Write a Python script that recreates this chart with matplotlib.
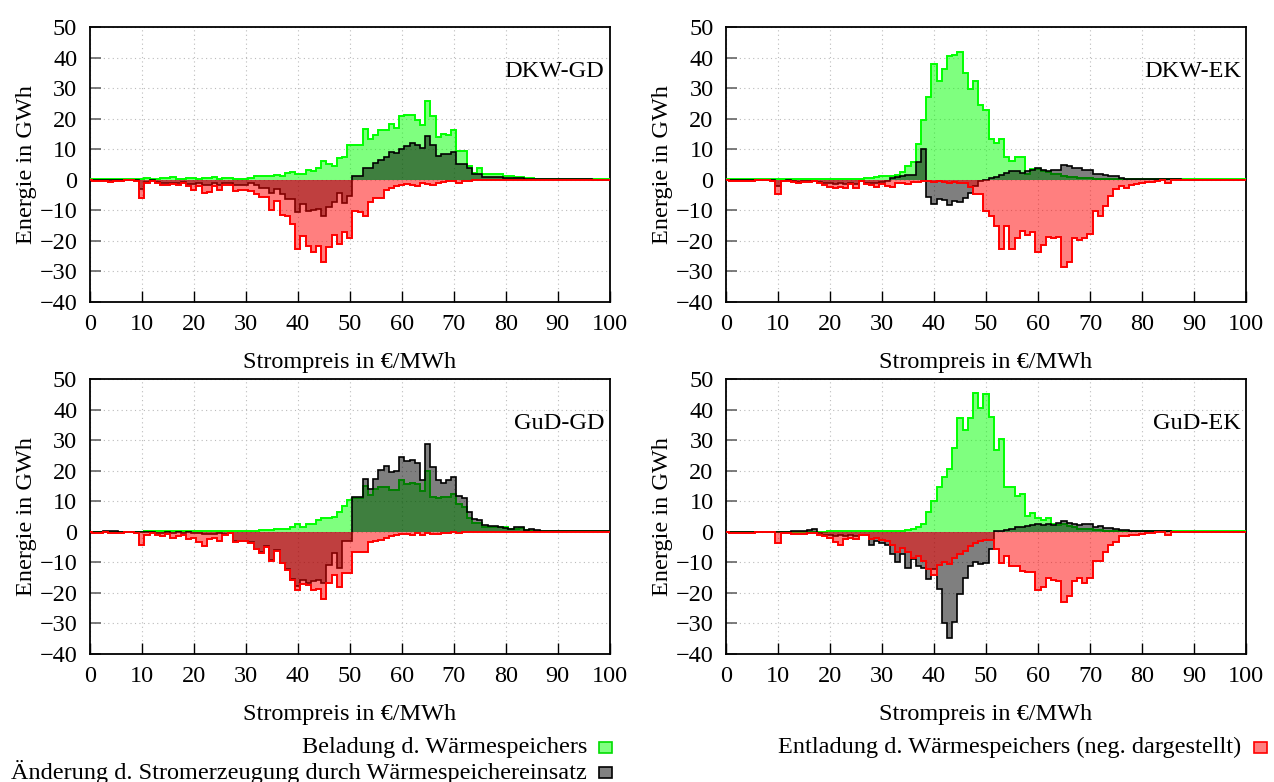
import numpy as np
import matplotlib
matplotlib.use("Agg")
import matplotlib.pyplot as plt
from matplotlib.patches import Rectangle

plt.rcParams['font.family'] = ['Liberation Serif', 'DejaVu Serif']

# Strompreis-Klassen (€/MWh), 1 €/MWh breit, zentriert
prices = np.arange(0, 101)

# ---------- DKW-GD ----------
dkw_gd_beladung = [
    0.1, 0.1, 0.1, 0.1, 0.1, 0.1, 0.1, 0.1, 0.1, 0.1,
    0.1, 0.5, 0.3, 0.3, 0.5, 0.5, 0.9, 0.4, 0.4, 0.5,
    0.6, 0.4, 0.6, 0.6, 0.8, 0.4, 0.6, 0.6, 0.4, 0.4,
    0.4, 0.5, 1.4, 1.4, 1.2, 1.2, 1.5, 1.3, 2.3, 2.5,
    1.9, 1.9, 3.1, 2.8, 3.9, 6.0, 5.2, 4.4, 7.1, 7.6,
    11.3, 11.3, 11.3, 16.7, 13.5, 14.6, 16.2, 16.2, 18.2, 16.8,
    20.9, 21.3, 21.1, 19.5, 17.8, 25.9, 20.8, 14.1, 15.0, 14.8,
    16.2, 9.5, 9.5, 4.4, 2.3, 3.9, 2.0, 1.9, 1.9, 1.9,
    1.2, 1.2, 1.0, 1.0, 0.7, 0.7, 0.4, 0.4, 0.4, 0.4,
    0.4, 0.2, 0.2, 0.2, 0.2, 0.2, 0.2, 0.2, 0.1, 0.1, 0.1]
dkw_gd_aenderung = [
    0.0, 0.0, -0.1, -0.1, -0.2, -0.1, 0.0, 0.0, 0.0, -0.1,
    -3.0, -0.7, -0.2, -0.8, -1.2, -1.2, -0.9, -1.2, -0.8, -1.4,
    -1.4, -1.2, -1.6, -1.6, -1.2, -1.6, -1.0, -1.2, -1.6, -1.6,
    -1.6, -1.0, -1.7, -2.6, -2.6, -4.2, -2.9, -4.7, -6.3, -6.3,
    -10.4, -8.0, -10.1, -9.8, -9.5, -11.7, -9.0, -7.4, -4.2, -7.5,
    -5.3, 1.2, 1.2, 3.9, 3.9, 5.5, 6.6, 7.4, 9.2, 8.7,
    10.0, 11.1, 11.9, 11.4, 10.5, 14.3, 11.4, 7.8, 8.4, 8.4,
    9.1, 5.3, 5.2, 3.7, 2.0, 2.0, 1.0, 0.9, 0.9, 0.9,
    0.6, 0.6, 0.5, 0.5, 0.3, 0.3, 0.2, 0.2, 0.2, 0.2,
    0.2, 0.1, 0.1, 0.1, 0.1, 0.1, 0.1, 0.0, 0.0, 0.0, 0.0]
dkw_gd_entladung = [
    -0.2, -0.3, -0.5, -0.4, -0.6, -0.5, -0.3, -0.2, -0.2, -0.3,
    -5.8, -1.0, -0.3, -1.0, -1.7, -1.7, -1.3, -1.7, -1.0, -2.0,
    -3.4, -2.0, -4.2, -3.9, -2.0, -3.2, -1.7, -1.7, -3.6, -3.4,
    -3.4, -3.6, -4.7, -5.5, -5.5, -9.9, -6.9, -11.4, -12.0, -14.6,
    -22.8, -18.5, -21.7, -23.5, -21.7, -26.8, -22.0, -18.0, -21.0, -17.0,
    -19.0, -10.3, -10.5, -12.0, -7.2, -6.0, -5.8, -3.3, -2.6, -2.0,
    -1.7, -1.3, -1.7, -2.0, -1.2, -1.3, -1.6, -1.0, -0.7, -0.5,
    -0.5, -1.0, -0.5, -0.3, -0.2, -0.2, -0.2, -0.2, -0.2, -0.2,
    -0.2, -0.2, -0.2, -0.2, -0.2, -0.2, -0.1, -0.1, -0.1, -0.1,
    -0.1, -0.1, -0.1, -0.1, -0.1, -0.1, -0.1, -0.1, -0.1, -0.1, -0.1]

# ---------- DKW-EK ----------
dkw_ek_beladung = [
    0.1, 0.1, 0.1, 0.1, 0.1, 0.1, 0.1, 0.1, 0.1, 0.1,
    0.3, 0.3, 0.2, 0.1, 0.1, 0.1, 0.2, 0.2, 0.2, 0.2,
    0.2, 0.2, 0.2, 0.3, 0.3, 0.4, 0.3, 0.5, 0.7, 0.9,
    1.2, 1.2, 1.2, 1.7, 2.5, 4.4, 5.7, 11.6, 19.7, 27.0,
    38.0, 32.2, 36.1, 40.4, 41.0, 41.7, 34.8, 29.7, 32.2, 24.5,
    22.9, 13.5, 12.2, 13.5, 7.4, 6.3, 7.4, 7.4, 2.0, 3.5,
    3.5, 3.0, 2.5, 2.0, 1.8, 1.2, 1.0, 0.8, 0.6, 0.6,
    0.6, 0.4, 0.4, 0.4, 0.4, 0.4, 0.3, 0.3, 0.3, 0.3,
    0.3, 0.2, 0.2, 0.2, 0.2, 0.2, 0.1, 0.1, 0.1, 0.1,
    0.1, 0.1, 0.1, 0.1, 0.1, 0.1, 0.1, 0.1, 0.1, 0.1, 0.1]
dkw_ek_aenderung = [
    0.0, 0.0, -0.1, -0.1, -0.2, -0.1, 0.0, 0.0, 0.0, -0.1,
    -2.0, -0.3, -0.1, -0.5, -0.8, -0.5, -0.4, -0.3, -0.8, -1.0,
    -1.2, -1.5, -1.2, -1.5, -1.0, -1.5, -0.4, -1.0, -1.2, -1.2,
    -0.8, -0.5, 0.5, 1.0, 1.4, 1.7, 1.7, 5.8, 10.0, -5.5,
    -8.0, -6.3, -6.6, -8.3, -6.9, -7.4, -6.1, -4.4, -2.0, -0.5,
    0.0, 0.5, 1.0, 1.7, 2.3, 2.8, 2.8, 2.3, 2.8, 3.3,
    3.7, 3.3, 2.8, 3.3, 3.3, 4.7, 4.4, 3.9, 3.9, 3.3,
    3.3, 2.0, 2.0, 1.7, 1.2, 1.2, 0.7, 0.4, 0.4, 0.4,
    0.4, 0.2, 0.2, 0.2, 0.2, 0.2, 0.1, 0.1, 0.0, 0.0,
    0.0, 0.0, 0.0, 0.0, 0.0, 0.0, 0.0, 0.0, 0.0, 0.0, 0.0]
dkw_ek_entladung = [
    -0.2, -0.3, -0.3, -0.4, -0.5, -0.3, -0.2, -0.2, -0.2, -0.3,
    -4.7, -0.5, -0.3, -0.8, -1.2, -0.8, -0.6, -0.4, -1.2, -1.6,
    -2.5, -2.8, -2.5, -2.8, -1.5, -2.8, -0.5, -1.5, -1.7, -2.2,
    -1.5, -2.0, -2.5, -1.2, -1.2, -1.5, -0.8, -0.6, -0.4, -0.3,
    -0.6, -0.3, -0.8, -1.0, -0.8, -1.2, -0.9, -2.5, -4.7, -4.7,
    -10.3, -11.7, -15.0, -22.5, -15.0, -22.5, -19.2, -16.6, -18.2, -17.1,
    -23.5, -21.4, -18.7, -19.2, -18.7, -28.4, -26.8, -19.2, -19.7, -19.2,
    -17.6, -10.1, -11.7, -8.5, -5.3, -3.1, -2.0, -2.6, -1.7, -1.3,
    -1.0, -0.8, -0.6, -0.5, -0.2, -1.0, -0.2, -0.2, -0.2, -0.2,
    -0.1, -0.1, -0.1, -0.1, -0.1, -0.1, -0.1, -0.1, -0.1, -0.1, -0.1]

# ---------- GuD-GD ----------
gud_gd_beladung = [
    0.0, 0.0, 0.0, 0.0, 0.0, 0.0, 0.0, 0.0, 0.0, 0.0,
    0.0, 0.1, 0.1, 0.1, 0.1, 0.1, 0.1, 0.1, 0.1, 0.1,
    0.1, 0.1, 0.1, 0.1, 0.1, 0.1, 0.2, 0.2, 0.3, 0.3,
    0.3, 0.3, 0.4, 0.5, 0.6, 0.6, 0.8, 0.8, 1.0, 1.6,
    2.5, 1.6, 2.7, 2.7, 3.9, 4.5, 4.5, 4.8, 6.5, 8.5,
    10.5, 10.9, 10.9, 15.0, 12.0, 14.1, 14.6, 14.6, 13.8, 13.8,
    16.8, 15.7, 16.1, 15.7, 13.5, 20.0, 11.4, 11.2, 11.4, 11.4,
    12.5, 9.2, 8.2, 4.4, 2.8, 2.8, 1.7, 1.5, 1.5, 1.5,
    1.4, 1.0, 1.0, 1.2, 0.5, 0.4, 0.3, 0.3, 0.3, 0.3,
    0.2, 0.2, 0.2, 0.2, 0.2, 0.1, 0.1, 0.1, 0.1, 0.1, 0.1]
gud_gd_aenderung = [
    0.0, 0.0, 0.0, 0.3, 0.4, 0.2, 0.0, 0.0, 0.0, 0.0,
    0.0, 0.0, -0.2, -0.3, -0.3, -0.2, -0.3, -0.2, -0.3, -0.2,
    -0.3, -0.5, -0.6, -0.8, -0.6, -0.5, -0.6, -0.5, -3.1, -2.9,
    -2.9, -3.4, -5.6, -6.7, -4.7, -9.4, -6.1, -10.1, -12.3, -15.5,
    -17.6, -15.7, -16.6, -16.2, -15.7, -16.6, -11.0, -6.9, -12.0, -3.1,
    -3.0, 11.4, 11.4, 17.3, 14.1, 17.3, 20.2, 21.4, 19.5, 20.0,
    24.5, 23.2, 23.4, 22.4, 16.8, 28.6, 21.3, 16.8, 16.0, 16.8,
    17.8, 11.6, 11.2, 6.6, 4.2, 3.9, 2.3, 2.0, 2.0, 1.7,
    1.2, 1.0, 1.4, 1.4, 0.6, 1.0, 0.5, 0.3, 0.3, 0.3,
    0.3, 0.2, 0.2, 0.2, 0.2, 0.2, 0.1, 0.1, 0.1, 0.1, 0.1]
gud_gd_entladung = [
    -0.2, -0.3, -0.3, -0.2, -0.4, -0.5, -0.3, -0.2, -0.2, -0.3,
    -4.2, -1.0, -0.5, -1.0, -1.5, -0.8, -2.0, -1.5, -1.0, -2.5,
    -2.0, -3.3, -4.5, -2.5, -2.0, -3.0, -1.2, -0.5, -3.3, -3.0,
    -3.0, -3.6, -5.8, -6.9, -5.0, -9.6, -6.3, -10.3, -12.5, -15.7,
    -19.2, -17.1, -17.4, -19.2, -18.7, -21.9, -16.9, -14.1, -18.2, -13.5,
    -13.5, -6.7, -6.7, -6.5, -3.4, -3.1, -2.6, -2.0, -1.5, -1.2,
    -0.8, -0.6, -1.0, -0.4, -1.1, -0.4, -0.6, -0.8, -0.4, -0.4,
    -0.2, -0.4, -0.2, -0.2, -0.2, -0.2, -0.2, -0.2, -0.2, -0.2,
    -0.1, -0.1, -0.1, -0.1, -0.1, -0.1, -0.1, -0.1, -0.1, -0.1,
    -0.1, -0.1, -0.1, -0.1, -0.1, -0.1, -0.1, -0.1, -0.1, -0.1, -0.1]

# ---------- GuD-EK ----------
gud_ek_beladung = [
    0.0, 0.0, 0.0, 0.0, 0.0, 0.0, 0.0, 0.0, 0.0, 0.0,
    0.0, 0.0, 0.0, 0.0, 0.0, 0.0, 0.0, 0.0, 0.0, 0.0,
    0.1, 0.1, 0.1, 0.1, 0.1, 0.1, 0.1, 0.1, 0.1, 0.1,
    0.2, 0.2, 0.2, 0.2, 0.3, 0.5, 0.8, 1.6, 2.4, 6.6,
    10.0, 14.6, 17.8, 20.4, 27.3, 37.2, 33.4, 37.2, 45.5, 40.6,
    45.0, 37.4, 26.8, 30.2, 14.8, 14.8, 11.6, 12.5, 5.3, 6.2,
    4.6, 3.9, 4.6, 2.5, 2.3, 2.5, 2.0, 1.5, 1.0, 1.0,
    0.8, 0.5, 0.5, 0.4, 0.4, 0.3, 0.3, 0.3, 0.2, 0.2,
    0.2, 0.2, 0.1, 0.1, 0.1, 0.1, 0.1, 0.1, 0.1, 0.1,
    0.1, 0.1, 0.1, 0.1, 0.1, 0.1, 0.1, 0.1, 0.1, 0.1, 0.1]
gud_ek_aenderung = [
    0.0, 0.0, 0.0, 0.0, 0.0, 0.0, 0.0, 0.0, 0.0, 0.0,
    0.0, 0.0, 0.0, 0.3, 0.2, 0.2, 0.5, 1.0, -0.5, -1.0,
    -1.0, -1.5, -1.0, -1.5, -1.0, -1.5, -1.0, -1.2, -4.2, -3.1,
    -3.7, -4.4, -7.4, -9.9, -7.4, -11.7, -9.0, -11.2, -11.9, -15.5,
    -12.3, -18.7, -30.0, -34.6, -29.5, -20.3, -15.0, -11.2, -9.9, -10.6,
    -10.1, -5.8, 0.2, 0.3, 0.5, 1.0, 1.7, 1.7, 1.9, 2.2,
    2.6, 2.2, 2.6, 2.2, 3.0, 3.5, 2.8, 2.6, 2.2, 2.6,
    2.6, 1.7, 1.9, 1.2, 1.2, 0.8, 0.6, 0.6, 0.3, 0.3,
    0.3, 0.2, 0.2, 0.2, 0.2, 0.2, 0.0, 0.0, 0.0, 0.0,
    0.0, 0.0, 0.0, 0.0, 0.0, 0.0, 0.0, 0.0, 0.0, 0.0, 0.0]
gud_ek_entladung = [
    -0.2, -0.3, -0.3, -0.4, -0.5, -0.4, -0.2, -0.2, -0.2, -0.2,
    -3.7, -0.5, -0.3, -0.8, -0.6, -0.8, -0.5, -0.5, -1.0, -1.5,
    -2.0, -3.4, -4.4, -2.5, -1.9, -2.5, -1.2, -1.0, -2.5, -2.2,
    -2.8, -3.0, -4.2, -6.7, -5.3, -6.7, -8.5, -8.0, -9.5, -12.3,
    -14.2, -11.0, -10.0, -10.5, -8.5, -7.4, -6.3, -4.5, -3.7, -3.1,
    -2.6, -2.6, -5.8, -10.1, -8.0, -11.2, -11.2, -12.8, -13.1, -13.1,
    -19.0, -18.2, -15.2, -15.7, -16.1, -23.0, -20.9, -16.2, -15.0, -16.6,
    -15.2, -9.6, -9.6, -6.7, -4.2, -3.4, -1.5, -1.5, -1.2, -1.0,
    -0.6, -0.4, -0.3, -0.2, -0.2, -0.9, -0.1, -0.1, -0.1, -0.1,
    -0.1, -0.1, -0.1, -0.1, -0.1, -0.1, -0.1, -0.1, -0.1, -0.1, -0.1]

panel_names = ["DKW-GD", "DKW-EK", "GuD-GD", "GuD-EK"]
beladung = [dkw_gd_beladung, dkw_ek_beladung, gud_gd_beladung, gud_ek_beladung]
aenderung = [dkw_gd_aenderung, dkw_ek_aenderung, gud_gd_aenderung, gud_ek_aenderung]
entladung = [dkw_gd_entladung, dkw_ek_entladung, gud_gd_entladung, gud_ek_entladung]

legend_labels = ["Beladung d. Wärmespeichers",
                 "Änderung d. Stromerzeugung durch Wärmespeichereinsatz",
                 "Entladung d. Wärmespeichers (neg. dargestellt)"]
xticks = list(range(0, 101, 10))
yticks = list(range(-40, 51, 10))

W, H = 1274, 782
fig = plt.figure(figsize=(W / 100, H / 100), dpi=100)
FS = 17.5

def fx(px):
    return px / W

def fy(py):
    return 1 - py / H

positions = [
    (fx(89.7), fy(302), fx(520), 275 / H),
    (fx(726), fy(302), fx(520), 275 / H),
    (fx(89.7), fy(654), fx(520), 275 / H),
    (fx(726), fy(654), fx(520), 275 / H),
]

edges = np.append(prices - 0.5, prices[-1] + 0.5)

for i, pos in enumerate(positions):
    ax = fig.add_axes(pos)
    g = np.array(beladung[i])
    k = np.array(aenderung[i])
    r = np.array(entladung[i])
    ax.stairs(g, edges, baseline=0, fill=True, color=(0, 1, 0, 0.5), lw=0, zorder=2)
    ax.stairs(g, edges, baseline=0, color='#00ff00', lw=1.4, zorder=3)
    ax.stairs(k, edges, baseline=0, fill=True, color=(0, 0, 0, 0.5), lw=0, zorder=4)
    ax.stairs(k, edges, baseline=0, color='black', lw=1.2, zorder=5)
    ax.stairs(r, edges, baseline=0, fill=True, color=(1, 0, 0, 0.5), lw=0, zorder=6)
    ax.stairs(r, edges, baseline=0, color='#ff0000', lw=1.4, zorder=7)

    ax.set_xlim(0, 100)
    ax.set_ylim(-40, 50)
    ax.set_xticks(xticks)
    ax.set_yticks(yticks)
    ax.set_yticklabels(["\u2212%d" % -v if v < 0 else "%d" % v for v in yticks])
    ax.tick_params(axis='x', direction='in', length=8, width=1.0, color='black',
                   labelsize=FS, pad=9, top=False)
    ax.tick_params(axis='y', direction='in', length=8, width=1.2, color='#666666',
                   labelsize=FS, pad=9, right=False)
    ax.grid(True, linestyle=(0, (1, 3)), color='#bbbbbb', lw=0.8, zorder=0)
    ax.set_axisbelow(True)
    for s in ax.spines.values():
        s.set_linewidth(1.3)
    ax.set_xlabel("Strompreis in €/MWh", fontsize=FS, labelpad=12)
    ax.set_ylabel("Energie in GWh", fontsize=FS, labelpad=2)
    ax.text(99, 35.5, panel_names[i], ha='right', va='center', fontsize=FS, zorder=10)

# Legende
def legend_entry(text, text_right_px, box_left_px, yc_px, face, edge):
    fig.text(fx(text_right_px), fy(yc_px), text, ha='right', va='center', fontsize=FS)
    bw, bh = 13, 11
    fig.patches.append(Rectangle((fx(box_left_px), fy(yc_px + bh / 2)), bw / W, bh / H,
                                 transform=fig.transFigure, facecolor=face,
                                 edgecolor=edge, lw=1.2))

legend_entry(legend_labels[0], 587, 599, 747, (0.5, 1, 0.5), '#00dd00')
legend_entry(legend_labels[1], 587, 599, 772, (0.5, 0.5, 0.5), 'black')
legend_entry(legend_labels[2], 1241, 1254, 747, (1, 0.5, 0.5), '#ff0000')

fig.savefig("out.png", dpi=100)
